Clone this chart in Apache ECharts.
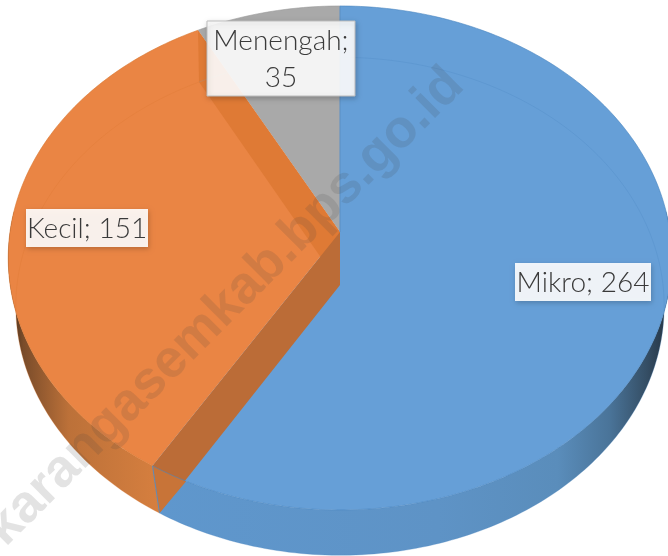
<!DOCTYPE html>
<html>
<head>
<meta charset="utf-8">
<style>
  html, body { margin: 0; padding: 0; background: #fff; }
  #chart { width: 668px; height: 556px; }
</style>
<script src="https://cdn.jsdelivr.net/npm/echarts@6/dist/echarts.min.js"></script>
</head>
<body>
<div id="chart"></div>
<script>
const categories = ['Mikro', 'Kecil', 'Menengah'];
const values = [264, 151, 35];
const watermark = 'karangasemkab.bps.go.id';

const topColors = ['#669FD7', '#EA8544', '#A9A9A9'];
const rimColors = ['rgba(74,134,192,0.6)', 'rgba(217,118,47,0.6)', 'rgba(153,153,153,0.6)'];
const labelBoxes = [[515, 263, 136, 38], [26, 209, 122, 38], [207, 21, 148, 75]];

// perspective of the disc: near side bigger than far side
const topFace = { cx: 340, cy: 232, r: 330, s: 249.3, k: 0.103 };
const bottomFace = { cx: 340, cy: 285, r: 323, s: 247.2, k: 0.0854 };

const total = values.reduce((a, b) => a + b, 0);
const starts = [];
values.reduce((sum, v, i) => { starts[i] = sum / total * 360; return sum + v; }, 0);
const angleEnd = i => starts[i] + values[i] / total * 360;

function project(face, deg) {
  const a = deg * Math.PI / 180;
  const u = Math.sin(a), v = Math.cos(a);
  const d = 1 + face.k * v;
  return [face.cx + face.r * u / d, face.cy - face.s * v / d];
}

function arc(face, from, to) {
  const pts = [];
  const steps = Math.max(2, Math.ceil(Math.abs(to - from)));
  for (let i = 0; i <= steps; i++) pts.push(project(face, from + (to - from) * i / steps));
  return pts;
}

const apex = face => [face.cx, face.cy];
const poly = (points, style) => ({ type: 'polygon', shape: { points }, style });
const line = (points, stroke, lineWidth) => ({ type: 'polyline', shape: { points }, style: { stroke, lineWidth, fill: null } });
const grad = stops => new echarts.graphic.LinearGradient(0, 0, 1, 0, stops);

const wallFills = [
  grad([
    { offset: 0, color: '#5F97CD' }, { offset: 0.55, color: '#5E93C6' }, { offset: 0.78, color: '#5A8DBB' },
    { offset: 0.88, color: '#4A7499' }, { offset: 0.95, color: '#354F66' }, { offset: 1, color: '#222F3C' }
  ]),
  grad([
    { offset: 0, color: '#3F2A1A' }, { offset: 0.1, color: '#7A4C2A' },
    { offset: 0.4, color: '#BC7139' }, { offset: 1, color: '#D67F3F' }
  ])
];

// outer side of the disc, only the part that faces the viewer
function renderWall(params) {
  const i = params.dataIndex;
  const from = Math.max(starts[i], 85), to = Math.min(angleEnd(i), 275);
  if (from >= to) return null;
  return poly(arc(topFace, from, to).concat(arc(bottomFace, to, from)), { fill: wallFills[i] });
}

function renderTop(params) {
  const i = params.dataIndex;
  const pts = [apex(topFace)].concat(arc(topFace, starts[i], angleEnd(i)));
  return poly(pts, { fill: topColors[i] });
}

// cut faces of the orange slice, seen through the top
function renderInner(params) {
  if (params.dataIndex !== 1) return null;
  const a = starts[1], b = angleEnd(1);
  const children = [
    poly([apex(topFace), project(topFace, b), project(bottomFace, b), apex(bottomFace)], { fill: '#DF7A35' }),
    poly([apex(topFace), project(topFace, a), project(bottomFace, a), apex(bottomFace)], { fill: '#BB6C37' }),
    poly(arc(topFace, a - 6.2, a).concat([project(bottomFace, a)]), { fill: '#C87438' })
  ];
  return { type: 'group', children };
}

function renderRims(params) {
  const i = params.dataIndex;
  const children = [
    line(arc(topFace, starts[i], angleEnd(i)), rimColors[i], 1),
    { type: 'polyline', shape: { points: arc(bottomFace, starts[i], angleEnd(i)) }, style: { stroke: rimColors[i], lineWidth: 1, fill: null, opacity: 0.45 } }
  ];
  if (i === 0) {
    children.push(line([apex(topFace), project(topFace, 0)], '#5A8FC4', 1));
    children.push(line([project(topFace, angleEnd(0)), project(bottomFace, angleEnd(0))], '#5F8BB8', 1));
  }
  return { type: 'group', children };
}

function renderLabel(params) {
  const i = params.dataIndex;
  const [x, y, w, h] = labelBoxes[i];
  const text = i === 2 ? categories[i] + ';\n' + values[i] : categories[i] + '; ' + values[i];
  return {
    type: 'group',
    children: [
      {
        type: 'rect',
        shape: { x, y, width: w, height: h },
        style: {
          fill: 'rgba(255,255,255,0.9)', stroke: i === 2 ? '#BDBDBD' : null, lineWidth: 1,
          shadowBlur: 5, shadowOffsetX: 1, shadowOffsetY: 2, shadowColor: 'rgba(0,0,0,0.22)'
        }
      },
      {
        type: 'text',
        style: {
          text, x: x + w / 2, y: y + h / 2 + 1, align: 'center', verticalAlign: 'middle',
          font: '300 28px Lato, Roboto, sans-serif', lineHeight: 37, fill: '#3A3A3A'
        }
      }
    ]
  };
}

const layer = (renderItem, z) => ({
  type: 'custom', coordinateSystem: 'none', silent: true, animation: false, clip: false,
  z, data: values, renderItem
});

const chart = echarts.init(document.getElementById('chart'));
chart.setOption({
  animation: false,
  backgroundColor: '#fff',
  series: [
    layer(renderWall, 1),
    layer(renderTop, 2),
    layer(renderInner, 3),
    layer(renderRims, 4),
    layer(renderLabel, 6)
  ],
  graphic: {
    elements: [{
      type: 'text', z: 5, silent: true,
      x: 14, y: 556, rotation: 45 * Math.PI / 180,
      style: {
        text: watermark, font: 'bold 53px "Liberation Sans", sans-serif',
        fill: 'rgba(70,70,70,0.15)', align: 'left', verticalAlign: 'bottom'
      }
    }]
  }
});
</script>
</body>
</html>
